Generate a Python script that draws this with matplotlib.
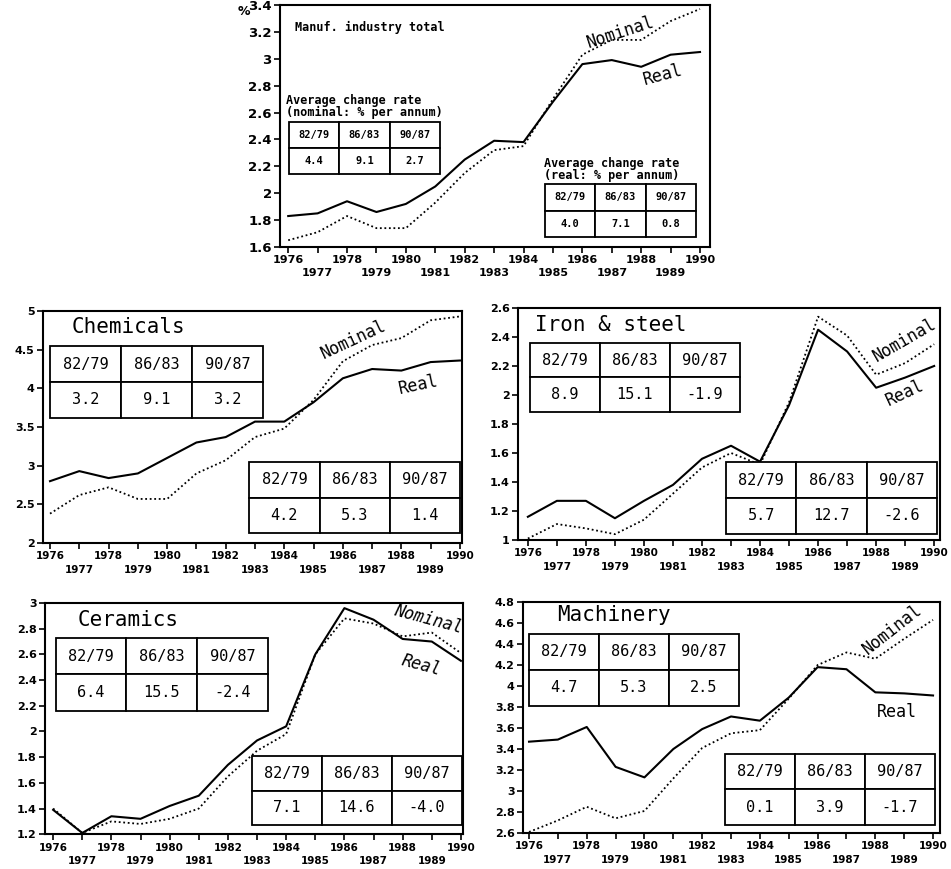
import matplotlib
matplotlib.use('Agg')
import matplotlib.pyplot as plt
from matplotlib.ticker import FormatStrFormatter, MultipleLocator
import numpy as np

years = np.arange(1976, 1991)

# share of value added (%), real and nominal
total_real = [1.83, 1.85, 1.94, 1.86, 1.92, 2.05, 2.25, 2.39, 2.38, 2.68, 2.96, 2.99, 2.94, 3.03, 3.05]
total_nom = [1.65, 1.71, 1.83, 1.74, 1.74, 1.93, 2.15, 2.32, 2.35, 2.70, 3.03, 3.14, 3.14, 3.28, 3.37]

chem_real = [2.80, 2.93, 2.84, 2.90, 3.10, 3.30, 3.37, 3.57, 3.57, 3.82, 4.13, 4.25, 4.23, 4.34, 4.36]
chem_nom = [2.38, 2.62, 2.72, 2.57, 2.57, 2.90, 3.07, 3.37, 3.48, 3.85, 4.35, 4.56, 4.65, 4.88, 4.93]

iron_real = [1.16, 1.27, 1.27, 1.15, 1.27, 1.38, 1.56, 1.65, 1.54, 1.93, 2.45, 2.30, 2.05, 2.12, 2.20]
iron_nom = [1.01, 1.11, 1.08, 1.04, 1.14, 1.32, 1.50, 1.60, 1.52, 1.95, 2.54, 2.41, 2.14, 2.22, 2.35]

cera_real = [1.39, 1.21, 1.34, 1.32, 1.42, 1.50, 1.74, 1.93, 2.04, 2.60, 2.96, 2.87, 2.72, 2.70, 2.55]
cera_nom = [1.40, 1.21, 1.30, 1.28, 1.32, 1.40, 1.65, 1.85, 1.98, 2.60, 2.88, 2.84, 2.74, 2.77, 2.61]

mach_real = [3.47, 3.49, 3.61, 3.23, 3.13, 3.40, 3.59, 3.71, 3.67, 3.89, 4.18, 4.16, 3.94, 3.93, 3.91]
mach_nom = [2.61, 2.72, 2.85, 2.74, 2.81, 3.12, 3.41, 3.55, 3.58, 3.88, 4.20, 4.32, 4.26, 4.45, 4.63]

periods = ['82/79', '86/83', '90/87']
# average change rates, % per annum
total_rate_nom = ['4.4', '9.1', '2.7']
total_rate_real = ['4.0', '7.1', '0.8']
chem_rate_nom = ['3.2', '9.1', '3.2']
chem_rate_real = ['4.2', '5.3', '1.4']
iron_rate_nom = ['8.9', '15.1', '-1.9']
iron_rate_real = ['5.7', '12.7', '-2.6']
cera_rate_nom = ['6.4', '15.5', '-2.4']
cera_rate_real = ['7.1', '14.6', '-4.0']
mach_rate_nom = ['4.7', '5.3', '2.5']
mach_rate_real = ['0.1', '3.9', '-1.7']

MONO = 'DejaVu Sans Mono'


def add_table(ax, values, bbox, size=11, bold=False):
    tab = ax.table(cellText=[periods, values], cellLoc='center', bbox=bbox, zorder=5)
    tab.auto_set_font_size(False)
    for cell in tab.get_celld().values():
        cell.set_linewidth(1.3)
        cell.set_edgecolor('black')
        cell.set_facecolor('white')
        txt = cell.get_text()
        txt.set_fontfamily(MONO)
        txt.set_fontsize(size)
        if bold:
            txt.set_fontweight('bold')
    return tab


def setup_axes(ax, ylim, step, xlim, ysize=8, xsize=7.5):
    ax.set_xlim(xlim)
    ax.set_ylim(ylim)
    ax.yaxis.set_major_locator(MultipleLocator(step))
    ax.yaxis.set_major_formatter(FormatStrFormatter('%g'))
    # even years on the first row, odd years staggered below
    even = years[years % 2 == 0]
    odd = years[years % 2 == 1]
    ax.set_xticks(even)
    ax.set_xticklabels([str(y) for y in even])
    ax.set_xticks(odd, minor=True)
    ax.set_xticklabels([str(y) for y in odd], minor=True)
    ax.tick_params(axis='both', which='both', direction='out', length=4, width=1.2, pad=2)
    ax.tick_params(axis='x', which='minor', pad=11.5)
    ax.tick_params(axis='x', which='both', labelsize=xsize)
    ax.tick_params(axis='y', labelsize=ysize)
    labels = (ax.get_xticklabels() + ax.get_xticklabels(minor=True) + ax.get_yticklabels())
    for lab in labels:
        lab.set_fontweight('bold')
    for sp in ax.spines.values():
        sp.set_linewidth(1.5)


def draw_lines(ax, real, nom):
    ax.plot(years, real, color='black', lw=1.5, ls='-')
    ax.plot(years, nom, color='black', lw=1.3, ls=(0, (1, 1.5)))


fig = plt.figure(figsize=(9.51, 8.69), dpi=100)

# manufacturing total
ax0 = fig.add_axes([0.2944, 0.7158, 0.4522, 0.2785])
draw_lines(ax0, total_real, total_nom)
setup_axes(ax0, (1.6, 3.4), 0.2, (1975.72, 1990.34), ysize=9.5, xsize=8)
ax0.text(-0.085, 0.975, '%', transform=ax0.transAxes, fontsize=9, fontweight='bold',
         ha='center', va='center')
ax0.text(0.035, 0.905, 'Manuf. industry total', transform=ax0.transAxes, fontsize=8.5,
         fontweight='bold', family=MONO, va='center')
ax0.text(0.015, 0.53, 'Average change rate\n(nominal: % per annum)', transform=ax0.transAxes,
         fontsize=8.5, fontweight='bold', family=MONO, va='bottom', linespacing=0.85)
add_table(ax0, total_rate_nom, [0.021, 0.302, 0.351, 0.215], size=7.5, bold=True)
ax0.text(0.613, 0.27, 'Average change rate\n(real: % per annum)', transform=ax0.transAxes,
         fontsize=8.5, fontweight='bold', family=MONO, va='bottom', linespacing=0.85)
add_table(ax0, total_rate_real, [0.616, 0.041, 0.351, 0.219], size=7.5, bold=True)
ax0.text(0.791, 0.888, 'Nominal', transform=ax0.transAxes, fontsize=12, family=MONO,
         rotation=18, ha='center', va='center')
ax0.text(0.891, 0.711, 'Real', transform=ax0.transAxes, fontsize=12, family=MONO,
         rotation=15, ha='center', va='center')

# sector panels
panels = [
    ([0.0452, 0.3751, 0.4406, 0.2670], 'Chemicals', chem_real, chem_nom, (2, 5), 0.5,
     (1975.76, 1990.07), chem_rate_nom, chem_rate_real,
     [0.017, 0.539, 0.508, 0.310], [0.492, 0.043, 0.504, 0.306], (0.069, 0.93),
     (0.742, 0.875, 25), (0.895, 0.681, 12), 'normal'),
    ([0.5447, 0.3786, 0.4437, 0.2670], 'Iron & steel', iron_real, iron_nom, (1, 2.6), 0.2,
     (1975.66, 1990.2), iron_rate_nom, iron_rate_real,
     [0.028, 0.552, 0.498, 0.297], [0.493, 0.026, 0.500, 0.310], (0.040, 0.927),
     (0.917, 0.862, 30), (0.917, 0.634, 25), 'normal'),
    ([0.0473, 0.0400, 0.4395, 0.2661], 'Ceramics', cera_real, cera_nom, (1.2, 3), 0.2,
     (1975.72, 1990.07), cera_rate_nom, cera_rate_real,
     [0.026, 0.532, 0.507, 0.318], [0.495, 0.039, 0.502, 0.300], (0.079, 0.927),
     (0.916, 0.931, -15), (0.902, 0.730, -15), 'italic'),
    ([0.5499, 0.0414, 0.4385, 0.2658], 'Machinery', mach_real, mach_nom, (2.6, 4.8), 0.2,
     (1975.79, 1990.24), mach_rate_nom, mach_rate_real,
     [0.014, 0.550, 0.504, 0.312], [0.484, 0.035, 0.504, 0.307], (0.081, 0.944),
     (0.887, 0.879, 38), (0.897, 0.524, 0), 'normal'),
]

for (rect, title, real, nom, ylim, step, xlim, rate_nom, rate_real,
     box_nom, box_real, tpos, npos, rpos, style) in panels:
    ax = fig.add_axes(rect)
    draw_lines(ax, real, nom)
    setup_axes(ax, ylim, step, xlim)
    ax.text(tpos[0], tpos[1], title, transform=ax.transAxes, fontsize=15, family=MONO,
            va='center')
    add_table(ax, rate_nom, box_nom, size=11)
    add_table(ax, rate_real, box_real, size=11)
    ax.text(npos[0], npos[1], 'Nominal', transform=ax.transAxes, fontsize=12, family=MONO,
            rotation=npos[2], ha='center', va='center', style=style)
    ax.text(rpos[0], rpos[1], 'Real', transform=ax.transAxes, fontsize=12, family=MONO,
            rotation=rpos[2], ha='center', va='center', style=style)

fig.savefig('out.png', dpi=100)
